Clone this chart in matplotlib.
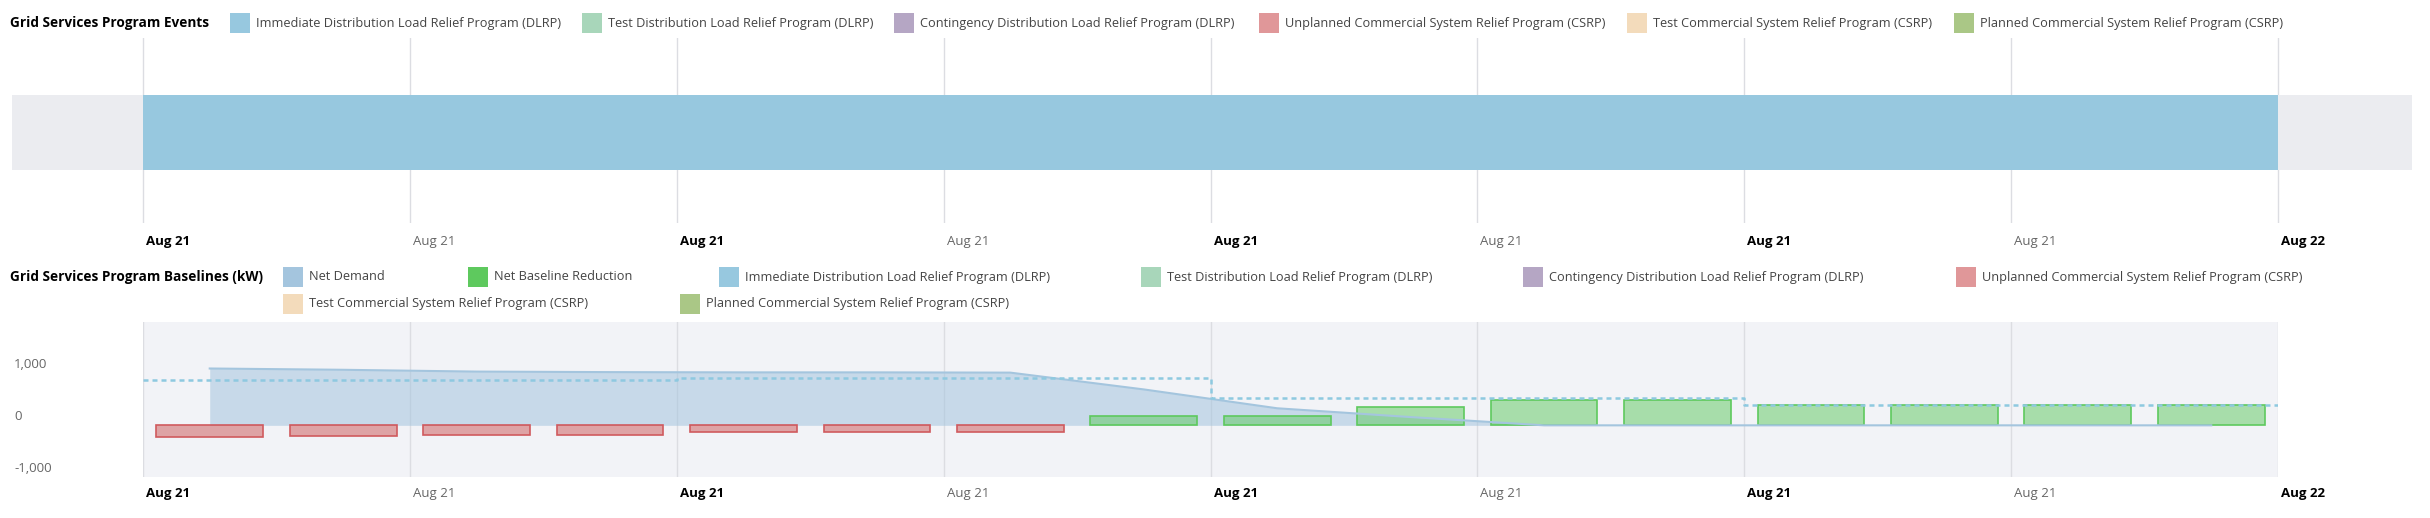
import numpy as np
import matplotlib.pyplot as plt
from matplotlib.colors import to_rgba
from matplotlib.patches import Rectangle
from matplotlib.transforms import offset_copy

plt.rcParams['font.family'] = ['Open Sans', 'DejaVu Sans']

W, H = 2430, 518

# x axis: hours after Aug 21 00:00
tick_hours = [0, 3, 6, 9, 12, 15, 18, 21, 24]
tick_labels = ['Aug 21', 'Aug 21', 'Aug 21', 'Aug 21', 'Aug 21',
               'Aug 21', 'Aug 21', 'Aug 21', 'Aug 22']
tick_bold = [True, False, True, False, True, False, True, False, True]

# programs shown in the legends
program_names = ['Immediate Distribution Load Relief Program (DLRP)',
                 'Test Distribution Load Relief Program (DLRP)',
                 'Contingency Distribution Load Relief Program (DLRP)',
                 'Unplanned Commercial System Relief Program (CSRP)',
                 'Test Commercial System Relief Program (CSRP)',
                 'Planned Commercial System Relief Program (CSRP)']
program_colors = ['#97c8df', '#a8d6ba', '#b5a6c4', '#e09799', '#f3dbbb', '#aac786']

# events chart
event_program = 'Immediate Distribution Load Relief Program (DLRP)'
event_start = 0
event_end = 24

# baselines chart (kW), one value per 90 minute period
period_mid = [0.75, 2.25, 3.75, 5.25, 6.75, 8.25, 9.75, 11.25,
              12.75, 14.25, 15.75, 17.25, 18.75, 20.25, 21.75, 23.25]
net_demand = [1100, 1075, 1040, 1030, 1025, 1025, 1020, 695,
              330, 160, 0, 0, 0, 0, 0, 0]
reduction = [-230, -200, -180, -180, -130, -130, -130, 190,
             190, 360, 500, 500, 400, 400, 400, 400]
reduction_series = ['Unplanned', 'Unplanned', 'Unplanned', 'Unplanned',
                    'Unplanned', 'Unplanned', 'Unplanned', 'Net', 'Net',
                    'Net', 'Net', 'Net', 'Net', 'Net', 'Net', 'Net']
baseline_hours = [0, 6, 12, 18, 24]
baseline_kw = [870, 915, 525, 400, 400]
y_ticks = [-1000, 0, 1000]

NET_DEMAND = '#a4c5de'
NET_REDUCTION = '#5ec95e'
GRID = '#dcdde2'


def fx(x):
    return x / W


def fy(y):
    return 1 - y / H


fig = plt.figure(figsize=(W / 100, H / 100), dpi=100)
px_per_h = 2135 / 24

# ---- events chart
ax1 = fig.add_axes([fx(12), fy(223), 2400 / W, 185 / H])
ax1.set_xlim(-131 / px_per_h, 24 + 134 / px_per_h)
ax1.set_ylim(0, 1)
ax1.axis('off')
for h in tick_hours:
    ax1.axvline(h, color=GRID, lw=1, zorder=0)
ax1.axhspan(0.2865, 0.6919, color='#ebecf0', lw=0, zorder=1)
ax1.barh(0.489, event_end - event_start, left=event_start, height=0.4054,
         color=program_colors[program_names.index(event_program)], lw=0, zorder=2)

# ---- baselines chart
ax2 = fig.add_axes([fx(143), fy(477), 2135 / W, 155 / H])
ax2.set_facecolor('#f2f3f7')
ax2.set_xlim(0, 24)
ax2.set_ylim(-1000, 2000)
for s in ax2.spines.values():
    s.set_visible(False)
ax2.set_xticks([])
ax2.set_yticks([])
for h in tick_hours:
    ax2.axvline(h, color=GRID, lw=1, zorder=1)

ax2.fill_between(period_mid, 0, net_demand, color=NET_DEMAND, alpha=0.55, lw=0, zorder=2)
ax2.plot(period_mid, net_demand, color=NET_DEMAND, lw=1.5, zorder=4)

fills = [to_rgba('#cc5555', 0.5) if s == 'Unplanned' else to_rgba(NET_REDUCTION, 0.5)
         for s in reduction_series]
edges = ['#d05a5e' if s == 'Unplanned' else NET_REDUCTION for s in reduction_series]
ax2.bar(period_mid, reduction, width=1.2, color=fills, edgecolor=edges, lw=1.2, zorder=3)

ax2.plot(baseline_hours, baseline_kw, drawstyle='steps-post', color='#8ec9e0',
         lw=1.8, ls=(0, (2, 1.6)), zorder=5)

ylab_tr = offset_copy(ax2.get_yaxis_transform(), fig, y=9, units='dots')
for v in y_ticks:
    ax2.text(-129 / 2135, v, f'{v:,}', transform=ylab_tr, ha='left', va='center',
             color='#666666', fontsize=9.5)

# x tick labels, left aligned at the tick
for ax, ylab in [(ax1, -19 / 185), (ax2, -17 / 155)]:
    tr = offset_copy(ax.get_xaxis_transform(), fig, x=3, units='dots')
    for h, lab, b in zip(tick_hours, tick_labels, tick_bold):
        ax.text(h, ylab, lab, transform=tr, ha='left', va='center', fontsize=9.5,
                fontweight='bold' if b else 'normal',
                color='black' if b else '#666666')


# ---- legends
def legend_item(x, y, color, label):
    fig.add_artist(Rectangle((fx(x), fy(y + 10)), 20 / W, 20 / H,
                             transform=fig.transFigure, color=color, lw=0))
    fig.text(fx(x + 26), fy(y), label, ha='left', va='center',
             color='#444444', fontsize=9.2)


fig.text(fx(10), fy(23), 'Grid Services Program Events', ha='left', va='center',
         fontweight='bold', fontsize=9.8)
for x, c, n in zip([230, 582, 894, 1259, 1627, 1954], program_colors, program_names):
    legend_item(x, 23, c, n)

fig.text(fx(10), fy(277), 'Grid Services Program Baselines (kW)', ha='left', va='center',
         fontweight='bold', fontsize=9.8)
base_names = ['Net Demand', 'Net Baseline Reduction'] + program_names
base_colors = [NET_DEMAND, NET_REDUCTION] + program_colors
base_pos = [(283, 277), (468, 277), (719, 277), (1141, 277), (1523, 277), (1956, 277),
            (283, 304), (680, 304)]
for (x, y), c, n in zip(base_pos, base_colors, base_names):
    legend_item(x, y, c, n)

fig.savefig('out.png', dpi=100)
